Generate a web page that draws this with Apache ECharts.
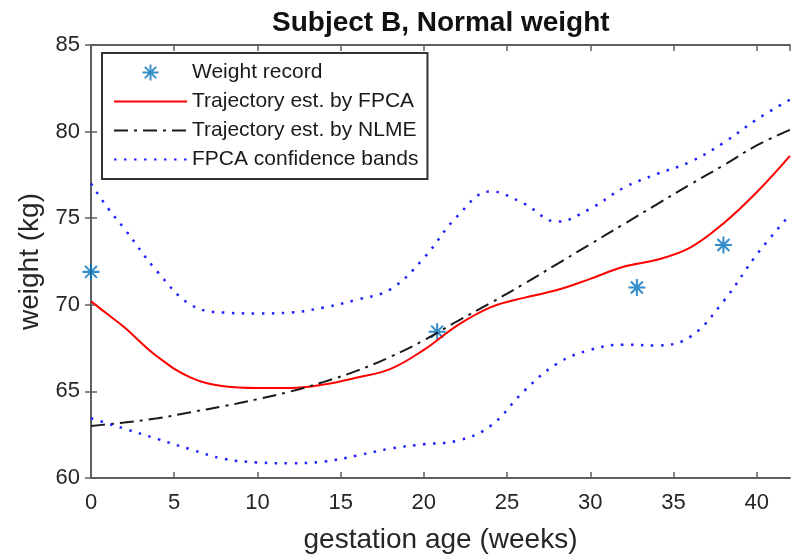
<!DOCTYPE html>
<html>
<head>
<meta charset="utf-8">
<title>Subject B, Normal weight</title>
<script src="https://cdn.jsdelivr.net/npm/echarts@6/dist/echarts.min.js"></script>
<style>
  html, body { margin: 0; padding: 0; background: #fff; }
  #chart { width: 801px; height: 558px; }
</style>
</head>
<body>
<div id="chart"></div>
<script>
// Gestation weeks at which the estimated curves are sampled
const weeks = [0, 1, 2, 4, 6, 8, 10, 12, 14, 16, 18, 20, 22, 24, 26, 28, 30, 32, 34, 36, 38, 40, 42];

// Weight trajectory estimated by FPCA (kg)
const fpcaTrajectory = [70.2, 69.45, 68.7, 67.0, 65.8, 65.3, 65.2, 65.2, 65.4, 65.8, 66.3, 67.4,
  68.8, 69.85, 70.4, 70.85, 71.5, 72.2, 72.6, 73.3, 74.7, 76.5, 78.6];

// Weight trajectory estimated by NLME (kg)
const nlmeTrajectory = [63.0, 63.1, 63.2, 63.45, 63.8, 64.15, 64.55, 65.0, 65.55, 66.2, 67.0, 67.95,
  69.05, 70.1, 71.2, 72.35, 73.5, 74.65, 75.8, 76.95, 78.05, 79.2, 80.1];

// FPCA confidence bands (kg)
const bandUpper = [77.0, 75.6, 74.4, 71.9, 70.0, 69.55, 69.5, 69.55, 69.85, 70.3, 70.9, 72.7,
  75.1, 76.55, 75.85, 74.8, 75.55, 76.75, 77.55, 78.25, 79.35, 80.7, 81.85];
const bandLower = [63.45, 63.15, 62.85, 62.25, 61.65, 61.1, 60.9, 60.85, 60.95, 61.3, 61.7, 61.95,
  62.15, 63.0, 65.0, 66.6, 67.4, 67.7, 67.65, 68.15, 70.2, 72.9, 75.2];

// Recorded weights
const recordWeeks = [0, 20.8, 32.8, 38.0];
const recordWeights = [71.9, 68.45, 71.0, 73.45];

const pair = (xs, ys) => xs.map((x, i) => [x, ys[i]]);

// Eight-spoke asterisk marker built from four thin bars
function asteriskPath() {
  const r = 10, t = 1.2;
  let d = '';
  for (let k = 0; k < 4; k++) {
    const a = k * Math.PI / 4;
    const c = Math.cos(a), s = Math.sin(a);
    const pts = [[-r, -t], [r, -t], [r, t], [-r, t]].map(([px, py]) =>
      [(px * c - py * s + r).toFixed(3), (px * s + py * c + r).toFixed(3)]);
    d += 'M' + pts.map(p => p.join(' ')).join(' L') + ' Z ';
  }
  return 'path://' + d.trim();
}

const textColor = '#262626';
const axisColor = '#5f5f5f';
const fontFamily = '"Liberation Sans", Arial, Helvetica, sans-serif';

const chart = echarts.init(document.getElementById('chart'), null, { renderer: 'canvas' });

const baseAxisLine = { show: true, lineStyle: { color: axisColor, width: 2 } };
const inTicks = { show: true, inside: true, length: 6, lineStyle: { color: axisColor, width: 1.5 } };

// Line entries in the legend show only the line sample, no marker
const lineOnly = { itemStyle: { opacity: 0 } };

chart.setOption({
  animation: false,
  backgroundColor: '#ffffff',
  textStyle: { fontFamily: fontFamily },
  title: {
    text: 'Subject B, Normal weight',
    left: 272,
    top: 9,
    padding: 0,
    textStyle: { fontSize: 28, fontWeight: 'bold', color: '#111111', fontFamily: fontFamily }
  },
  legend: {
    orient: 'vertical',
    left: 102,
    top: 53,
    padding: [9, 9, 9, 11],
    itemGap: 8,
    itemWidth: 73,
    itemHeight: 16,
    borderColor: '#333333',
    borderWidth: 2,
    backgroundColor: '#ffffff',
    textStyle: { fontSize: 21, color: '#1a1a1a', lineHeight: 21, fontFamily: fontFamily },
    data: [
      { name: 'Weight record' },
      Object.assign({ name: 'Trajectory est. by FPCA' }, lineOnly),
      Object.assign({ name: 'Trajectory est. by NLME' }, lineOnly),
      Object.assign({ name: 'FPCA confidence bands' }, lineOnly)
    ]
  },
  grid: { left: 91, right: 11, top: 45, bottom: 80, outerBoundsMode: 'none', containLabel: false },
  xAxis: [
    {
      type: 'value', min: 0, max: 42, interval: 5,
      name: 'gestation age (weeks)', nameLocation: 'middle', nameGap: 48,
      nameTextStyle: { fontSize: 28, color: textColor, fontFamily: fontFamily },
      axisLine: baseAxisLine, axisTick: inTicks,
      axisLabel: { fontSize: 22, color: textColor, margin: 14, fontFamily: fontFamily,
        showMaxLabel: false },
      splitLine: { show: false }
    },
    {
      type: 'value', min: 0, max: 42, interval: 5, position: 'top',
      axisLine: baseAxisLine, axisTick: inTicks, axisLabel: { show: false }, splitLine: { show: false }
    }
  ],
  yAxis: [
    {
      type: 'value', min: 60, max: 85, interval: 5,
      name: 'weight (kg)', nameLocation: 'middle', nameGap: 46,
      nameTextStyle: { fontSize: 28, color: textColor, fontFamily: fontFamily },
      axisLine: baseAxisLine, axisTick: inTicks,
      axisLabel: { fontSize: 22, color: textColor, margin: 11, fontFamily: fontFamily },
      splitLine: { show: false }
    },
    {
      type: 'value', min: 60, max: 85, interval: 5, position: 'right',
      axisLine: baseAxisLine, axisTick: inTicks, axisLabel: { show: false }, splitLine: { show: false }
    }
  ],
  series: [
    {
      name: 'Weight record',
      type: 'scatter',
      z: 1,
      symbol: asteriskPath(),
      symbolSize: 17,
      itemStyle: { color: '#0072BD' },
      data: pair(recordWeeks, recordWeights)
    },
    {
      name: 'Trajectory est. by FPCA',
      type: 'line',
      smooth: 0.4,
      symbol: 'none',
      color: '#ff0000',
      lineStyle: { color: '#ff0000', width: 2 },
      data: pair(weeks, fpcaTrajectory)
    },
    {
      name: 'Trajectory est. by NLME',
      type: 'line',
      smooth: 0.4,
      symbol: 'none',
      color: '#1a1a1a',
      lineStyle: { color: '#1a1a1a', width: 2, type: [14, 6, 3, 6] },
      data: pair(weeks, nlmeTrajectory)
    },
    {
      name: 'FPCA confidence bands',
      type: 'line',
      smooth: 0.4,
      symbol: 'none',
      color: '#1f1fff',
      lineStyle: { color: '#1f1fff', width: 2.5, type: [2.5, 7.5] },
      data: pair(weeks, bandUpper)
    },
    {
      name: 'FPCA confidence bands',
      type: 'line',
      smooth: 0.4,
      symbol: 'none',
      color: '#1f1fff',
      lineStyle: { color: '#1f1fff', width: 2.5, type: [2.5, 7.5] },
      data: pair(weeks, bandLower)
    }
  ]
});
</script>
</body>
</html>
